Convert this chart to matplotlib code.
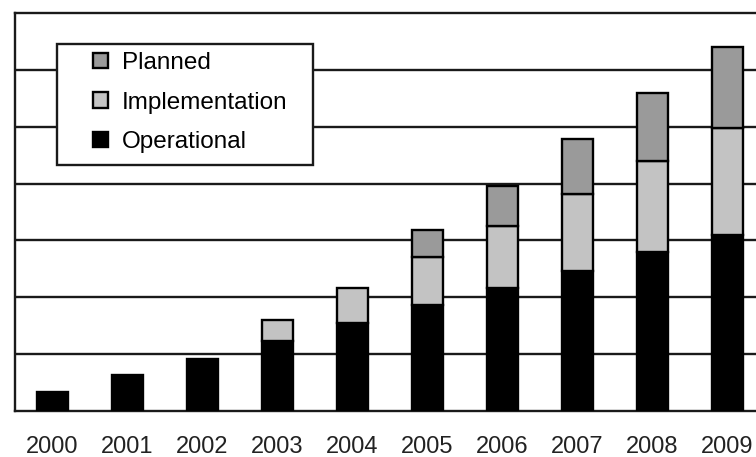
import matplotlib
matplotlib.use('Agg')
import matplotlib.pyplot as plt
from matplotlib.patches import Patch, Rectangle
import numpy as np

plt.rcParams['font.family'] = ['Liberation Sans', 'DejaVu Sans']

years = ['2000', '2001', '2002', '2003', '2004', '2005', '2006', '2007', '2008', '2009']
operational = [0.33, 0.63, 0.91, 1.23, 1.54, 1.86, 2.16, 2.47, 2.79, 3.10]
implementation = [0.0, 0.0, 0.0, 0.37, 0.62, 0.84, 1.09, 1.35, 1.61, 1.88]
planned = [0.0, 0.0, 0.0, 0.0, 0.0, 0.48, 0.71, 0.97, 1.20, 1.42]

C_OPER = '#000000'
C_IMPL = '#c3c3c3'
C_PLAN = '#9a9a9a'

W, H = 756, 457
fig = plt.figure(figsize=(W / 100, H / 100), dpi=100)
# axes runs past the right edge of the picture, like the cropped original
ax = fig.add_axes([15 / W, (H - 411) / H, (765 - 15) / W, (411 - 13) / H])

x = np.arange(len(years))
oper = np.array(operational)
impl = np.array(implementation)
plan = np.array(planned)

bw = 0.42
lw = 1.7
ax.bar(x, oper, bw, color=C_OPER, edgecolor='black', linewidth=lw, zorder=3)
mask = impl > 0
ax.bar(x[mask], impl[mask], bw, bottom=oper[mask], color=C_IMPL,
       edgecolor='black', linewidth=lw, zorder=3)
mask = plan > 0
ax.bar(x[mask], plan[mask], bw, bottom=(oper + impl)[mask], color=C_PLAN,
       edgecolor='black', linewidth=lw, zorder=3)

ax.set_xlim(-0.5, 9.5)
ax.set_ylim(0, 7)
ax.set_yticks(np.arange(1, 7))
ax.yaxis.grid(True, color='#1a1a1a', linewidth=1.7, zorder=0)
ax.set_axisbelow(True)
ax.tick_params(axis='y', left=False, labelleft=False)
ax.set_xticks(x)
ax.set_xticklabels(years, fontsize=17, color='#222222')
ax.tick_params(axis='x', length=0, pad=18)
for side in ['left', 'top', 'bottom']:
    ax.spines[side].set_linewidth(1.7)
    ax.spines[side].set_color('#1a1a1a')
ax.spines['right'].set_visible(False)

# legend box
fig.add_artist(Rectangle((57 / W, (H - 165) / H), 256 / W, 121 / H,
                         transform=fig.transFigure, facecolor='white',
                         edgecolor='#1a1a1a', linewidth=1.7, zorder=2))
handles = [Patch(facecolor=C_PLAN, edgecolor='black', linewidth=1.7),
           Patch(facecolor=C_IMPL, edgecolor='black', linewidth=1.7),
           Patch(facecolor=C_OPER, edgecolor='black', linewidth=1.7)]
fig.legend(handles, ['Planned', 'Implementation', 'Operational'],
           loc='upper left', bbox_to_anchor=(93 / W, (H - 52) / H),
           frameon=False, fontsize=17.5, handlelength=0.6, handleheight=0.6,
           handletextpad=0.6, labelspacing=0.72, borderpad=0, borderaxespad=0)

fig.savefig('out.png', dpi=100)
